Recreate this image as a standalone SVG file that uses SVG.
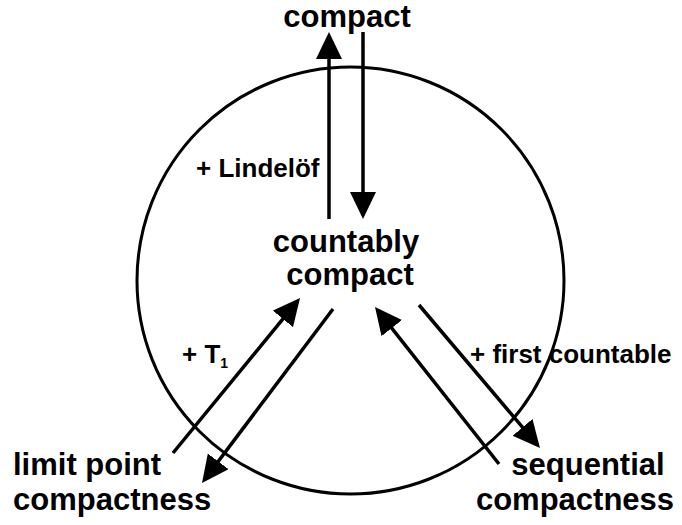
<svg xmlns="http://www.w3.org/2000/svg" width="682" height="525" viewBox="0 0 682 525">
<defs>
<style>
.big{font-family:"Liberation Sans",Arial,sans-serif;font-weight:bold;font-size:31px;fill:#000}
.lbl{font-family:"Liberation Sans",Arial,sans-serif;font-weight:bold;font-size:26px;fill:#000}
.arr{stroke:#000;stroke-width:3.5;fill:none;marker-end:url(#head)}
</style>
<marker id="head" markerUnits="userSpaceOnUse" markerWidth="32" markerHeight="32" refX="23" refY="13" orient="auto">
<path d="M0,0 L27,13 L0,26 Z" fill="#000"/>
</marker>
</defs>
<rect width="682" height="525" fill="#fff"/>
<circle cx="350.5" cy="280.5" r="213.5" fill="none" stroke="#000" stroke-width="3"/>
<g id="connectors">
<line class="arr" x1="329" y1="219" x2="329" y2="36"/>
<line class="arr" x1="363" y1="32" x2="363" y2="215"/>
<line class="arr" x1="173" y1="453" x2="297.5" y2="301.1"/>
<line class="arr" x1="333" y1="309" x2="204.4" y2="479.8"/>
<line class="arr" x1="499" y1="464" x2="377.5" y2="310.1"/>
<line class="arr" x1="419" y1="305" x2="537.4" y2="444.9"/>
<text class="lbl" x="196" y="177">+ Lindelöf</text>
<text class="lbl" x="182" y="363">+ T<tspan font-size="14" dy="5">1</tspan></text>
<text class="lbl" x="470" y="363">+ first countable</text>
</g>
<g id="compact"><text class="big" x="347" y="27" text-anchor="middle">compact</text></g>
<g id="countably-compact">
<text class="big" x="346" y="252" text-anchor="middle">countably</text>
<text class="big" x="350" y="285" text-anchor="middle">compact</text>
</g>
<g id="limit-point-compactness">
<text class="big" x="13" y="475">limit point</text>
<text class="big" x="13" y="510">compactness</text>
</g>
<g id="sequential-compactness">
<text class="big" x="588" y="475" text-anchor="middle">sequential</text>
<text class="big" x="575" y="510" text-anchor="middle">compactness</text>
</g>
</svg>
